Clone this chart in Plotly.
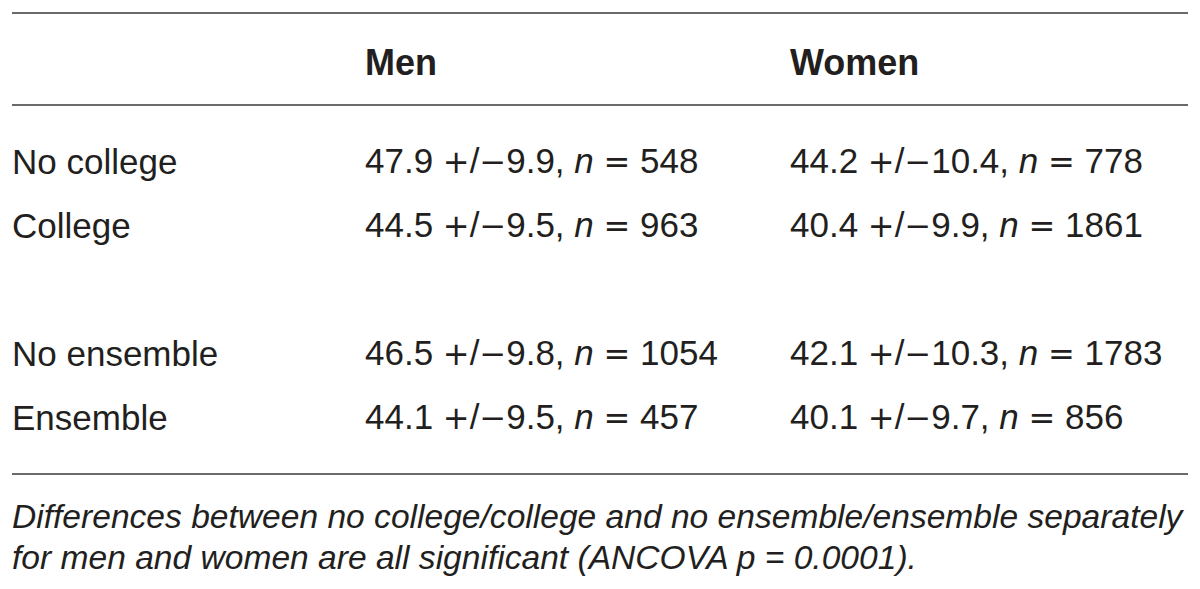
import plotly.graph_objects as go

col_headers = ["Men", "Women"]
row_labels = ["No college", "College", "No ensemble", "Ensemble"]
means_men = [47.9, 44.5, 46.5, 44.1]
sd_men = [9.9, 9.5, 9.8, 9.5]
n_men = [548, 963, 1054, 457]
means_women = [44.2, 40.4, 42.1, 40.1]
sd_women = [10.4, 9.9, 10.3, 9.7]
n_women = [778, 1861, 1783, 856]
footnote = ["Differences between no college/college and no ensemble/ensemble separately",
            "for men and women are all significant (ANCOVA p = 0.0001)."]

W, H = 1200, 589
FONT = "Liberation Sans, Arial, sans-serif"
TXT = "#231f20"
row_y = [161, 225, 353, 417]
col_x = [10, 363, 788]
header_y = 62
foot_y = [516, 557]

fig = go.Figure()
fig.add_trace(go.Scatter(x=[0], y=[0], mode="markers", marker=dict(opacity=0), hoverinfo="skip", showlegend=False))

ann = []
def cell(x, y, text, size=35):
    ann.append(dict(x=x, y=y, xref="x", yref="y", text=text, showarrow=False,
                    xanchor="left", yanchor="middle",
                    font=dict(family=FONT, size=size, color=TXT)))

for h, x in zip(col_headers, col_x[1:]):
    cell(x, header_y, "<b>%s</b>" % h, size=36)

def sym(c):
    return '<span style="font-family:DejaVu Sans;font-size:32px">%s</span>' % c

def fmt(m, s, n):
    return "%.1f %s/%s%.1f, <i>n</i> %s %d" % (m, sym("+"), sym("\u2212"), s, sym("="), n)

for i, lab in enumerate(row_labels):
    cell(col_x[0], row_y[i], lab)
    cell(col_x[1], row_y[i], fmt(means_men[i], sd_men[i], n_men[i]))
    cell(col_x[2], row_y[i], fmt(means_women[i], sd_women[i], n_women[i]))

for k, line in enumerate(footnote):
    cell(col_x[0], foot_y[k], "<i>%s</i>" % line, size=33.6)

shapes = []
for yy in [13, 105, 474]:
    shapes.append(dict(type="line", xref="x", yref="y", x0=12, x1=1188, y0=yy, y1=yy,
                       line=dict(color="#3a3a3a", width=1.6)))

fig.update_layout(width=W, height=H, margin=dict(l=0, r=0, t=0, b=0),
                  paper_bgcolor="white", plot_bgcolor="white",
                  annotations=ann, shapes=shapes,
                  xaxis=dict(range=[0, W], visible=False, fixedrange=True),
                  yaxis=dict(range=[H, 0], visible=False, fixedrange=True),
                  showlegend=False)
fig.write_html("out.html", config={"displayModeBar": False},
               post_script="document.body.style.margin='0';document.body.style.overflow='hidden';")
